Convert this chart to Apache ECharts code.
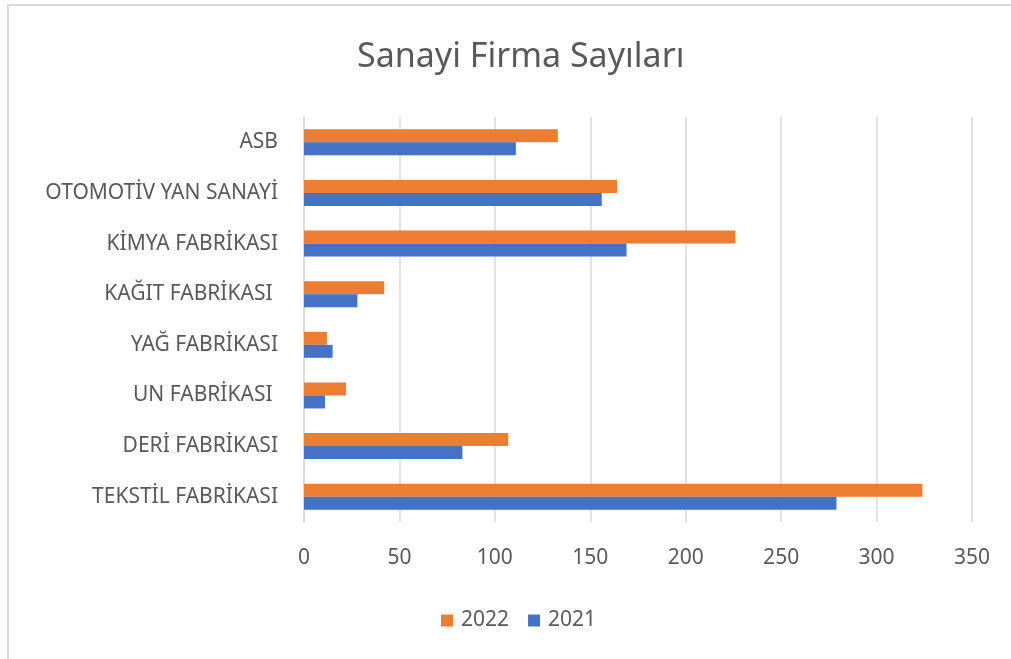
<!DOCTYPE html>
<html>
<head>
<meta charset="utf-8">
<script src="https://cdn.jsdelivr.net/npm/echarts@6/dist/echarts.min.js"></script>
<style>html,body{margin:0;padding:0;background:#fff}#c{width:1011px;height:659px}</style>
</head>
<body>
<div id="c"></div>
<script>
const categories = ["TEKSTİL FABRİKASI", "DERİ FABRİKASI", "UN FABRİKASI ", "YAĞ FABRİKASI", "KAĞIT FABRİKASI ", "KİMYA FABRİKASI", "OTOMOTİV YAN SANAYİ", "ASB"];
const values2021 = [279, 83, 11, 15, 28, 169, 156, 111];
const values2022 = [324, 107, 22, 12, 42, 226, 164, 133];
const xTicks = { min: 0, max: 350, interval: 50 };

const font = "'Noto Sans', 'Open Sans', sans-serif";
const chart = echarts.init(document.getElementById('c'));
chart.setOption({
  animation: false,
  backgroundColor: '#fff',
  title: {
    text: 'Sanayi Firma Sayıları',
    left: 352, top: 35,
    textStyle: { fontFamily: font, fontSize: 34, fontWeight: 'normal', color: '#595959' }
  },
  legend: {
    data: ['2022', '2021'],
    bottom: 23, left: 436,
    itemWidth: 12, itemHeight: 12, itemGap: 19,
    icon: 'rect',
    textStyle: { fontFamily: font, fontSize: 21, color: '#595959', padding: [0, 0, 0, 3] }
  },
  grid: { left: 304, right: 39, top: 117, bottom: 137, containLabel: false },
  xAxis: {
    type: 'value', min: xTicks.min, max: xTicks.max, interval: xTicks.interval,
    axisLine: { show: false }, axisTick: { show: false },
    splitLine: { lineStyle: { color: '#d9d9d9', width: 1.5 } },
    axisLabel: { fontFamily: font, fontSize: 21, color: '#595959', margin: 26 }
  },
  yAxis: {
    type: 'category', data: categories,
    axisLine: { show: true, lineStyle: { color: '#d9d9d9', width: 1.5 } },
    axisTick: { show: false },
    axisLabel: { fontFamily: font, fontSize: 21, color: '#595959', margin: 26 }
  },
  series: [
    { name: '2022', type: 'bar', data: values2022, barWidth: 13, barGap: '0%',
      itemStyle: { color: '#ed7d31' } },
    { name: '2021', type: 'bar', data: values2021, barWidth: 13, barGap: '0%',
      itemStyle: { color: '#4472c4' } }
  ],
  graphic: [
    { type: 'line', shape: { x1: 7, y1: 5, x2: 1011, y2: 5 }, style: { stroke: '#d9d9d9', lineWidth: 2 } },
    { type: 'line', shape: { x1: 8, y1: 4, x2: 8, y2: 659 }, style: { stroke: '#d9d9d9', lineWidth: 2 } }
  ]
});
</script>
</body>
</html>
